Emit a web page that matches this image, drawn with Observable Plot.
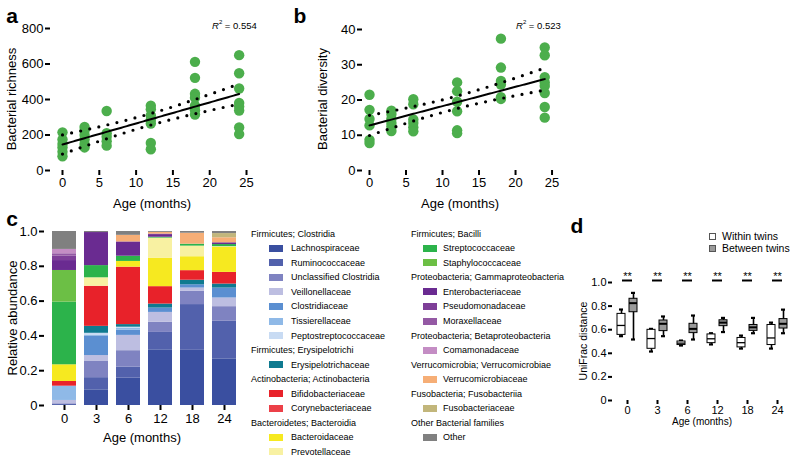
<!DOCTYPE html>
<html><head><meta charset="utf-8">
<script src="https://cdn.jsdelivr.net/npm/d3@7"></script>
<script src="https://cdn.jsdelivr.net/npm/@observablehq/plot@0.6"></script>
<style>
body{margin:0;background:#fff;}
#fig{position:relative;width:800px;height:461px;overflow:hidden;font-family:"Liberation Sans",Arial,Helvetica,sans-serif;color:#000;background:#fff;}
.p{position:absolute;}
.t{position:absolute;white-space:nowrap;line-height:1;}
.sw{position:absolute;width:14px;height:7px;}
</style></head><body><div id="fig"></div><script>
// ---------- Panel a / b data ----------
const ages = [0, 3, 6, 12, 18, 24];
const richness = [
  [215, 175, 150, 130, 105, 80],
  [245, 225, 200, 175, 150, 130],
  [335, 210, 190, 165, 140],
  [365, 345, 310, 285, 265, 155, 120],
  [612, 522, 432, 410, 365, 340, 315],
  [650, 548, 462, 380, 360, 338, 242, 205]
];
const diversity = [
  [21.5, 17.2, 14.6, 12.8, 8.7, 7.8],
  [17, 16, 14.7, 13.5, 12.5, 11.2],
  [20.2, 18.8, 14.5, 13.5, 12.3, 11.1],
  [25, 22.5, 19.5, 16.8, 11.4, 10.6],
  [37.4, 29.2, 25.4, 24.4, 20.8, 20.3],
  [34.9, 32.7, 26.5, 25, 24, 22, 18, 15]
];
const ageTicks = [0, 5, 10, 15, 20, 25];
const richnessTicks = [0, 200, 400, 600, 800];
const diversityTicks = [0, 10, 20, 30, 40];
const r2Richness = "0.554";
const r2Diversity = "0.523";

// ---------- Panel c data ----------
const families = ["Lachnospiraceae","Ruminococcaceae","Unclassified Clostridia","Veillonellaceae","Clostridiaceae","Tissierellaceae","Peptostreptococcaceae","Erysipelotrichaceae","Bifidobacteriaceae","Corynebacteriaceae","Bacteroidaceae","Prevotellaceae","Streptococcaceae","Staphylococcaceae","Enterobacteriaceae","Pseudomonadaceae","Moraxellaceae","Comamonadaceae","Verrucomicrobiaceae","Fusobacteriaceae","Other"];
const familyColors = ["#3a4fa0","#5261ac","#7f83c1","#bdbee1","#5b8fd1","#8fb9e7","#c8dbf3","#0f7a90","#e8222a","#ec4048","#f6e920","#f8f1a2","#2cb34b","#6cbf45","#6a2b91","#7e3f98","#9459a4","#c48dc4","#f6ae76","#c2b67b","#808080"];
const stackAges = ["0", "3", "6", "12", "18", "24"];
const abund0  = [0.005,0,0.005,0.019,0,0.082,0,0,0.027,0,0.096,0,0.36,0.182,0.057,0.025,0.014,0.025,0,0,0.103];
const abund3  = [0.09,0.07,0.093,0.034,0.113,0.005,0.01,0.04,0.23,0,0,0.049,0.07,0,0.19,0,0,0,0,0,0.006];
const abund6  = [0.157,0.063,0.095,0.088,0.03,0.012,0.005,0.015,0.33,0,0.033,0,0.03,0,0.082,0,0,0,0.038,0,0.022];
const abund12 = [0.32,0.10,0.058,0.057,0.025,0,0,0.023,0.10,0,0.164,0.115,0.005,0,0.01,0.008,0,0,0.01,0,0.005];
const abund18 = [0.317,0.263,0.076,0.019,0.019,0,0,0.026,0.055,0,0.08,0.061,0.011,0,0,0,0,0,0.063,0,0.01];
const abund24 = [0.268,0.216,0.084,0.05,0.057,0,0,0.023,0.067,0,0.143,0.005,0.012,0,0.01,0,0,0,0.029,0.024,0.012];
const abundTicks = [0, 0.2, 0.4, 0.6, 0.8, 1.0];
const legendCol1 = [
  ["Firmicutes; Clostridia", ["Lachnospiraceae","Ruminococcaceae","Unclassified Clostridia","Veillonellaceae","Clostridiaceae","Tissierellaceae","Peptostreptococcaceae"]],
  ["Firmicutes; Erysipelotrichi", ["Erysipelotrichaceae"]],
  ["Actinobacteria; Actinobacteria", ["Bifidobacteriaceae","Corynebacteriaceae"]],
  ["Bacteroidetes; Bacteroidia", ["Bacteroidaceae","Prevotellaceae"]]
];
const legendCol2 = [
  ["Firmicutes; Bacilli", ["Streptococcaceae","Staphylococcaceae"]],
  ["Proteobacteria; Gammaproteobacteria", ["Enterobacteriaceae","Pseudomonadaceae","Moraxellaceae"]],
  ["Proteobacteria; Betaproteobacteria", ["Comamonadaceae"]],
  ["Verrucomicrobia; Verrucomicrobiae", ["Verrucomicrobiaceae"]],
  ["Fusobacteria; Fusobacteriia", ["Fusobacteriaceae"]],
  ["Other Bacterial families", ["Other"]]
];

// ---------- Panel d data ----------
const unifracAges = ["0", "3", "6", "12", "18", "24"];
const withinMin = [0.545, 0.415, 0.466, 0.475, 0.44, 0.44];
const withinQ1  = [0.556, 0.438, 0.47, 0.486, 0.45, 0.47];
const withinMed = [0.636, 0.525, 0.486, 0.523, 0.49, 0.53];
const withinQ3  = [0.734, 0.599, 0.50, 0.56, 0.53, 0.64];
const withinMax = [0.771, 0.607, 0.508, 0.57, 0.55, 0.66];
const betweenMin = [0.517, 0.545, 0.517, 0.58, 0.57, 0.57];
const betweenQ1  = [0.748, 0.588, 0.571, 0.63, 0.59, 0.61];
const betweenMed = [0.825, 0.65, 0.607, 0.66, 0.62, 0.65];
const betweenQ3  = [0.862, 0.678, 0.65, 0.68, 0.64, 0.69];
const betweenMax = [0.912, 0.712, 0.72, 0.70, 0.70, 0.77];
const sigLabels = ["**", "**", "**", "**", "**", "**"];
const unifracTicks = [0, 0.2, 0.4, 0.6, 0.8, 1.0];

// ---------- helpers ----------
const fig = document.getElementById("fig");
const FONT = "'Liberation Sans', Arial, Helvetica, sans-serif";
function place(el, left, top) {
  const d = document.createElement("div");
  d.className = "p"; d.style.left = left + "px"; d.style.top = top + "px";
  d.appendChild(el); fig.appendChild(d);
}
function txt(html, x, y, o = {}) {
  const d = document.createElement("div");
  d.className = "t";
  d.innerHTML = html;
  d.style.left = x + "px"; d.style.top = y + "px";
  d.style.fontSize = (o.size || 13) + "px";
  if (o.bold) d.style.fontWeight = "bold";
  const ax = o.anchor === "start" ? "0" : "-50%";
  d.style.transform = `translate(${ax},-50%)`;
  if (o.rotate) { d.style.transform = `translate(-50%,-50%) rotate(${o.rotate}deg)`; }
  fig.appendChild(d);
}
function regression(pts) {
  const xs = pts.map(d => d.age), ys = pts.map(d => d.value);
  const n = xs.length, mx = d3.mean(xs), my = d3.mean(ys);
  const sxx = d3.sum(xs, x => (x - mx) ** 2);
  const sxy = d3.sum(xs.map((x, i) => (x - mx) * (ys[i] - my)));
  const b = sxy / sxx, a = my - b * mx;
  const sse = d3.sum(xs.map((x, i) => (ys[i] - a - b * x) ** 2));
  const s = Math.sqrt(sse / (n - 2)), t = 2.03;
  return d3.range(0, 24.001, 0.25).map(x => {
    const yh = a + b * x, h = t * s * Math.sqrt(1 / n + (x - mx) ** 2 / sxx);
    return {x, fit: yh, lo: yh - h, hi: yh + h};
  });
}
function scatterPanel(series, yTicks, yMax, xDomain, opts) {
  const pts = ages.flatMap((a, i) => series[i].map(v => ({age: a, value: v})));
  const reg = regression(pts);
  const dotted = {x: "x", stroke: "#000", strokeWidth: 3.2, strokeLinecap: "round", strokeDasharray: "0 9.3"};
  return Plot.plot({
    width: opts.width, height: 215,
    marginLeft: opts.ml, marginRight: opts.mr, marginTop: opts.mt, marginBottom: 45,
    style: {fontFamily: FONT, fontSize: "13px", background: "transparent", color: "#000"},
    x: {domain: xDomain},
    y: {domain: [0, yMax]},
    marks: [
      Plot.dot(pts, {x: "age", y: "value", r: 5.2, fill: "#4cae4c"}),
      Plot.line(reg, {...dotted, y: "hi"}),
      Plot.line(reg, {...dotted, y: "lo"}),
      Plot.line(reg, {x: "x", y: "fit", stroke: "#000", strokeWidth: 2}),
      Plot.axisX({ticks: ageTicks, tickSize: 5, tickPadding: 2, strokeWidth: 2, line: true, label: null}),
      Plot.axisY({ticks: yTicks, tickSize: 5, tickPadding: 2, strokeWidth: 2, line: true, label: null})
    ]
  });
}

// ---------- Panel a ----------
place(scatterPanel(richness, richnessTicks, 800, [-1.63, 25.27], {width: 270, ml: 50, mr: 22, mt: 28}), 0, 0);
txt("a", 12, 15, {size: 21, bold: true});
txt("Bacterial richness", 11, 99, {size: 13, rotate: -90});
txt("Age (months)", 152, 203, {size: 13});
txt("<i>R</i><sup style='font-size:6px;vertical-align:5px'>2</sup> = " + r2Richness, 212, 25, {size: 9.5, anchor: "start"});

// ---------- Panel b ----------
place(scatterPanel(diversity, diversityTicks, 40, [-0.96, 25.2], {width: 300, ml: 92, mr: 17, mt: 29}), 270, 0);
txt("b", 300, 15, {size: 21, bold: true});
txt("Bacterial diversity", 322, 99, {size: 13, rotate: -90});
txt("Age (months)", 460, 203, {size: 13});
txt("<i>R</i><sup style='font-size:6px;vertical-align:5px'>2</sup> = " + r2Diversity, 516, 25, {size: 9.5, anchor: "start"});

// ---------- Panel c ----------
const abundByAge = [abund0, abund3, abund6, abund12, abund18, abund24];
const stackRows = stackAges.flatMap((a, i) => families.map((f, j) => ({age: a, family: f, value: abundByAge[i][j]})));
const plotC = Plot.plot({
  width: 250, height: 261, marginLeft: 44, marginRight: 10, marginTop: 31, marginBottom: 56,
  style: {fontFamily: FONT, fontSize: "13px", background: "transparent", color: "#000"},
  x: {type: "band", domain: stackAges, paddingInner: 0.2615, paddingOuter: 0.146, align: 0.63},
  y: {domain: [0, 1]},
  color: {domain: families, range: familyColors},
  marks: [
    Plot.barY(stackRows, {x: "age", y: "value", fill: "family"}),
    Plot.axisX({tickSize: 5, tickPadding: 3, strokeWidth: 2, line: true, label: null}),
    Plot.axisY({ticks: abundTicks, tickSize: 5, tickPadding: 2, strokeWidth: 2, line: true, label: null,
      tickFormat: d => d === 0 ? "0" : d.toFixed(1)})
  ]
});
place(plotC, 0, 200);
txt("c", 12, 218, {size: 21, bold: true});
txt("Relative abundance", 12, 318, {size: 13, rotate: -90});
txt("Age (months)", 142, 437, {size: 13});

// legend c
const colorOf = f => familyColors[families.indexOf(f)];
function legendColumn(groups, hx, sx, tx) {
  let row = 0;
  for (const [header, items] of groups) {
    txt(header, hx, 233.7 + 14.55 * row, {size: 9, anchor: "start"});
    row++;
    for (const f of items) {
      const y = 233.7 + 14.55 * row;
      const s = document.createElement("div");
      s.className = "sw"; s.style.left = sx + "px"; s.style.top = (y - 3.5) + "px"; s.style.background = colorOf(f);
      fig.appendChild(s);
      txt(f, tx, y, {size: 9, anchor: "start"});
      row++;
    }
  }
}
legendColumn(legendCol1, 251, 269, 291);
legendColumn(legendCol2, 411, 423, 443);

// ---------- Panel d ----------
const withinRows = unifracAges.map((a, i) => ({age: a, min: withinMin[i], q1: withinQ1[i], med: withinMed[i], q3: withinQ3[i], max: withinMax[i]}));
const betweenRows = unifracAges.map((a, i) => ({age: a, min: betweenMin[i], q1: betweenQ1[i], med: betweenMed[i], q3: betweenQ3[i], max: betweenMax[i]}));
const sigRows = unifracAges.map((a, i) => ({age: a, label: sigLabels[i], bar: 1.017, text: 1.05}));
function boxMarks(rows, fill, side) {
  const boxL = side < 0 ? 5 : 17, boxR = side < 0 ? 17 : 5;
  const capL = side < 0 ? 7 : 19, capR = side < 0 ? 19 : 7;
  return [
    Plot.ruleX(rows, {x: "age", y1: "min", y2: "max", dx: 6 * side, stroke: "#000", strokeWidth: 1.6}),
    Plot.tickY(rows, {x: "age", y: "min", insetLeft: capL, insetRight: capR, stroke: "#000", strokeWidth: 2.2}),
    Plot.tickY(rows, {x: "age", y: "max", insetLeft: capL, insetRight: capR, stroke: "#000", strokeWidth: 2.2}),
    Plot.barY(rows, {x: "age", y1: "q1", y2: "q3", insetLeft: boxL, insetRight: boxR, fill, stroke: "#000", strokeWidth: 1}),
    Plot.tickY(rows, {x: "age", y: "med", insetLeft: boxL, insetRight: boxR, stroke: "#000", strokeWidth: side < 0 ? 1.3 : 2})
  ];
}
const plotD = Plot.plot({
  width: 240, height: 261, marginLeft: 52, marginRight: 5, marginTop: 82, marginBottom: 61,
  style: {fontFamily: FONT, fontSize: "11px", background: "transparent", color: "#000", overflow: "visible"},
  x: {type: "band", domain: unifracAges, paddingInner: 0, paddingOuter: 0.05, align: 0},
  y: {domain: [0, 1]},
  marks: [
    ...boxMarks(withinRows, "#fff", -1),
    ...boxMarks(betweenRows, "#9a9a9a", 1),
    Plot.tickY(sigRows, {x: "age", y: "bar", insetLeft: 10, insetRight: 10, stroke: "#000", strokeWidth: 2}),
    Plot.text(sigRows, {x: "age", y: "text", text: "label", fontSize: 11}),
    Plot.axisX({tickSize: 4, tickPadding: 2, strokeWidth: 2, line: true, label: null}),
    Plot.axisY({ticks: unifracTicks, tickSize: 4, tickPadding: 2, strokeWidth: 2, line: true, label: null,
      tickFormat: d => d === 0 ? "0" : d.toFixed(1)})
  ]
});
place(plotD, 560, 200);
txt("d", 577, 225, {size: 21, bold: true});
txt("UniFrac distance", 583, 341, {size: 10.5, rotate: -90});
txt("Age (months)", 702, 422, {size: 10});
// legend d
[["Within twins", "#fff", 236], ["Between twins", "#9a9a9a", 248]].forEach(([label, col, y]) => {
  const s = document.createElement("div");
  s.style.cssText = `position:absolute;left:709px;top:${y - 3}px;width:5px;height:5px;border:1px solid #555;background:${col};`;
  fig.appendChild(s);
  txt(label, 722, y, {size: 10.5, anchor: "start"});
});
</script></body></html>
